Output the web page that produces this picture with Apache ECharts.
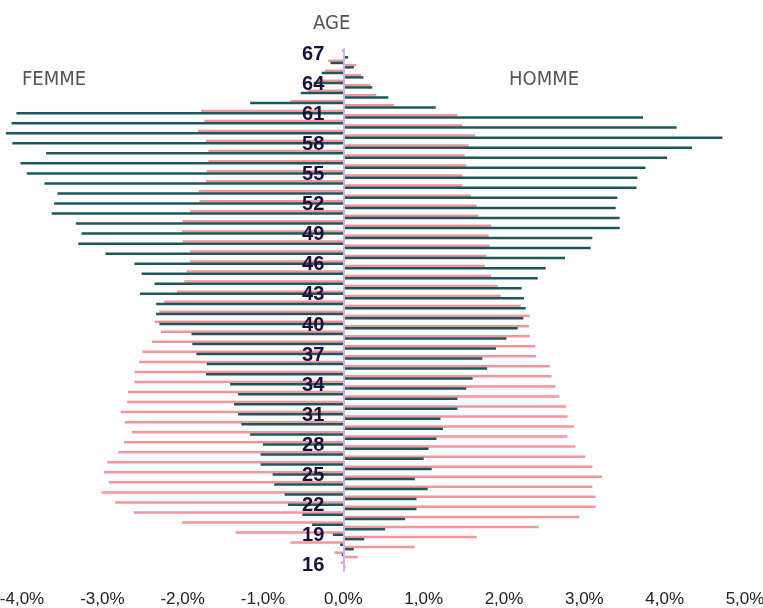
<!DOCTYPE html>
<html><head><meta charset="utf-8">
<script src="https://cdn.jsdelivr.net/npm/echarts@6/dist/echarts.min.js"></script>
<style>html,body{margin:0;padding:0;background:#fff}#c{width:763px;height:608px}</style>
</head><body><div id="c"></div>
<script>
// Ages, bottom (16) to top (67)
const ages = ['16','17','18','19','20','21','22','23','24','25','26','27','28','29','30','31','32','33','34','35','36','37','38','39','40','41','42','43','44','45','46','47','48','49','50','51','52','53','54','55','56','57','58','59','60','61','62','63','64','65','66','67'];
// FEMME (left side), percentages
const femmePink = [0.03,0.11,0.66,1.34,2.01,2.61,2.84,3.01,2.92,2.98,2.94,2.80,2.73,2.63,2.72,2.77,2.69,2.68,2.60,2.60,2.54,2.50,2.38,2.27,2.35,2.29,2.23,2.07,1.98,1.95,1.91,1.91,2.00,2.01,2.00,1.91,1.79,1.80,1.71,1.70,1.68,1.68,1.71,1.81,1.73,1.77,0.66,0.44,0.33,0.23,0.19,0.02];
const femmeTeal = [0,0.02,0.04,0.13,0.39,0.51,0.69,0.73,0.86,0.88,1.03,1.03,1.00,1.16,1.27,1.31,1.36,1.31,1.41,1.71,1.70,1.83,1.88,1.89,2.29,2.33,2.33,2.53,2.35,2.51,2.60,2.96,3.30,3.26,3.33,3.63,3.60,3.56,3.72,3.94,4.02,3.70,4.12,4.20,4.13,4.07,1.16,0.53,0.37,0.27,0.16,0];
// HOMME (right side), percentages
const hommePink = [0.03,0.18,0.89,1.66,2.43,2.94,3.14,3.14,3.10,3.22,3.10,3.01,2.89,2.79,2.87,2.79,2.77,2.69,2.64,2.59,2.57,2.40,2.39,2.32,2.31,2.32,2.21,1.96,1.92,1.84,1.76,1.78,1.82,1.81,1.84,1.68,1.66,1.59,1.48,1.48,1.53,1.51,1.56,1.64,1.48,1.42,0.63,0.41,0.34,0.22,0.16,0.02];
const hommeTeal = [0,0.02,0.13,0.26,0.52,0.77,0.91,0.91,1.05,0.89,1.10,1.00,1.06,1.16,1.24,1.21,1.42,1.42,1.53,1.61,1.79,1.73,1.90,2.03,2.17,2.24,2.27,2.25,2.22,2.42,2.52,2.76,3.08,3.10,3.44,3.44,3.39,3.41,3.65,3.66,3.76,4.03,4.34,4.72,4.15,3.73,1.15,0.56,0.36,0.25,0.13,0.06];
const xMin = -4, xMax = 5, xStep = 1;

const PINK = '#f6949b', TEAL = '#1d5858';
const neg = a => a.map(v => -v);
const fmt = v => v.toFixed(1).replace('.', ',') + '%';

const W = 763, GL = 22, GR = 18;
const zeroShift = (W - GL - GR) * (0 - xMin) / (xMax - xMin);

const chart = echarts.init(document.getElementById('c'), null, {renderer: 'canvas'});
const barCommon = {type: 'bar', barWidth: 2.5, barGap: '-12%', silent: true, animation: false, clip: false};
const titleFont = "'Liberation Sans Narrow', 'DejaVu Sans Condensed', sans-serif";
chart.setOption({
  animation: false,
  grid: {left: GL, right: GR, top: 49, bottom: 37, containLabel: false, outerBoundsMode: 'none'},
  xAxis: {
    type: 'value', min: xMin, max: xMax, interval: xStep,
    splitLine: {show: false}, axisLine: {show: false}, axisTick: {show: false},
    axisLabel: {formatter: fmt, fontSize: 17, color: '#222', margin: 20, fontFamily: "'Liberation Sans', Arial, sans-serif"}
  },
  yAxis: {
    type: 'category', data: ages, z: 10, position: 'left', offset: -zeroShift,
    axisLine: {onZero: false, lineStyle: {color: '#c9b6f2', width: 2}},
    axisTick: {show: false},
    axisLabel: {interval: 2, margin: 19, fontSize: 20, fontWeight: 'bold', color: '#1c0f3e', fontFamily: "'Liberation Sans', Arial, sans-serif"}
  },
  series: [
    Object.assign({name: 'F1', data: neg(femmePink), itemStyle: {color: PINK}}, barCommon),
    Object.assign({name: 'F2', data: neg(femmeTeal), itemStyle: {color: TEAL}}, barCommon),
    Object.assign({name: 'H1', data: hommePink, itemStyle: {color: PINK}}, barCommon),
    Object.assign({name: 'H2', data: hommeTeal, itemStyle: {color: TEAL}}, barCommon)
  ],
  graphic: [
    {type: 'text', left: 313, top: 14, style: {text: 'AGE', fontSize: 20, fill: '#555', fontFamily: titleFont}},
    {type: 'text', left: 22, top: 70, style: {text: 'FEMME', fontSize: 20, fill: '#555', fontFamily: titleFont}},
    {type: 'text', left: 509, top: 70, style: {text: 'HOMME', fontSize: 20, fill: '#555', fontFamily: titleFont}}
  ]
});
</script>
</body></html>
